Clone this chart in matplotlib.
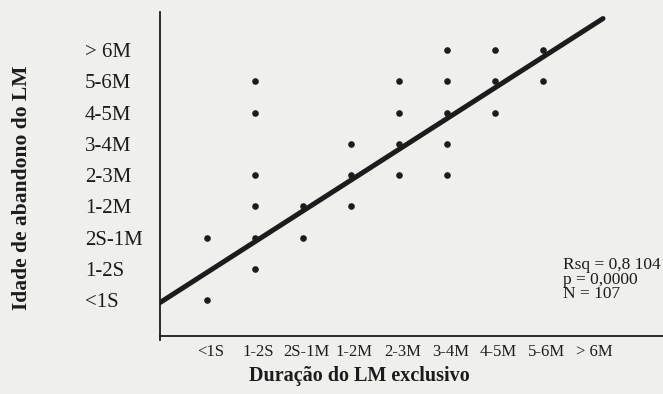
import matplotlib.pyplot as plt
import numpy as np

x_labels = ['<1S', '1-2S', '2S-1M', '1-2M', '2-3M', '3-4M', '4-5M', '5-6M', '> 6M']
y_labels = ['<1S', '1-2S', '2S-1M', '1-2M', '2-3M', '3-4M', '4-5M', '5-6M', '> 6M']

# category index (1..9) of exclusive duration vs. age at weaning
dur_x = [1, 1, 2, 2, 2, 2, 2, 2, 3, 3, 4, 4, 4, 5, 5, 5, 5, 6, 6, 6, 6, 6, 7, 7, 7, 8, 8]
age_y = [3, 1, 8, 7, 5, 4, 3, 2, 4, 3, 6, 5, 4, 8, 7, 6, 5, 9, 8, 7, 6, 5, 9, 8, 7, 9, 8]

fit_intercept = 0.9
fit_slope = 0.985
fit_range = [0.02, 9.25]
stats_lines = ['Rsq = 0,8 104', 'p = 0,0000', 'N = 107']

bg = '#efefed'
ink = '#1c1c1c'
plt.rcParams['font.family'] = ['Liberation Serif', 'DejaVu Serif']

fig = plt.figure(figsize=(6.63, 3.94), dpi=100, facecolor=bg)
ax = fig.add_axes([160 / 663, 58 / 394, 503 / 663, 324 / 394], facecolor=bg)

ax.scatter(dur_x, age_y, s=14, color=ink, zorder=3)
xs = np.array(fit_range)
ax.plot(xs, fit_intercept + fit_slope * xs, color=ink, lw=3.6, solid_capstyle='round', zorder=2)

ax.set_xlim(0.02, 10.5)
ax.set_ylim(-0.15, 10.22)
ax.set_xticks(np.arange(1, len(x_labels) + 1) + 0.07)
ax.set_xticklabels(x_labels, fontsize=12, color=ink)
ax.set_yticks(np.arange(1, len(y_labels) + 1))
ax.set_yticklabels(y_labels, fontsize=15, color=ink, ha='left')
ax.tick_params(axis='y', length=0, pad=54)
ax.tick_params(axis='x', length=0, pad=6)

for s in ['top', 'right']:
    ax.spines[s].set_visible(False)
for s in ['left', 'bottom']:
    ax.spines[s].set_color(ink)
    ax.spines[s].set_linewidth(1.3)
# small overhang of the y axis below the x axis, as in the scan
ax.plot([0, 0], [0, -0.012], transform=ax.transAxes, color=ink, lw=1.3, clip_on=False)

fig.text(359 / 663, 1 - 376 / 394, 'Duração do LM exclusivo', ha='center', va='center',
         fontsize=14.5, fontweight='bold', color=ink)
fig.text(22 / 663, 1 - 188 / 394, 'Idade de abandono do LM', ha='center', va='center',
         rotation=90, fontsize=15.5, fontweight='bold', color=ink)

for i, t in enumerate(stats_lines):
    fig.text(563 / 663, 1 - (265 + i * 14.5) / 394, t, ha='left', va='center',
             fontsize=12.5, color=ink, linespacing=1.0)

fig.savefig('out.png', dpi=100, facecolor=bg)
